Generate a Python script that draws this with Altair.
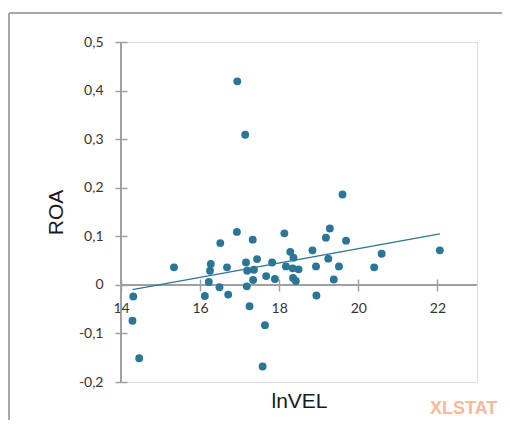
import altair as alt
import pandas as pd

# Data (lnVEL vs ROA)
lnvel = [14.31, 14.29, 14.46, 15.34, 16.27, 16.25, 16.22, 16.12, 16.51, 16.49,
         16.68, 16.71, 16.93, 16.94, 17.14, 17.16, 17.19, 17.18, 17.25, 17.33,
         17.44, 17.36, 17.34, 17.64, 17.58, 17.67, 17.82, 17.89, 18.13, 18.28,
         18.36, 18.17, 18.34, 18.35, 18.42, 18.49, 18.84, 18.93, 18.94, 19.18,
         19.28, 19.24, 19.38, 19.51, 19.60, 19.69, 20.40, 20.59, 22.06]
roa = [-0.024, -0.074, -0.151, 0.036, 0.043, 0.029, 0.006, -0.023, 0.086, -0.005,
       0.036, -0.020, 0.109, 0.419, 0.309, 0.046, 0.029, -0.003, -0.044, 0.093,
       0.053, 0.031, 0.010, -0.083, -0.168, 0.018, 0.046, 0.012, 0.106, 0.068,
       0.056, 0.038, 0.034, 0.014, 0.008, 0.032, 0.071, 0.038, -0.022, 0.097,
       0.116, 0.054, 0.011, 0.038, 0.186, 0.091, 0.036, 0.064, 0.071]

x_ticks = [14, 16, 18, 20, 22]
y_ticks = [-0.2, -0.1, 0, 0.1, 0.2, 0.3, 0.4, 0.5]

df = pd.DataFrame({"lnVEL": lnvel, "ROA": roa})

W, H = 356, 340
BLUE = "#2B7597"
AXIS_GRAY = "#A0A0A0"

xscale = alt.Scale(domain=[14, 23], nice=False, zero=False)
yscale = alt.Scale(domain=[-0.2, 0.5], nice=False, zero=False)

x_enc = alt.X(
    "lnVEL:Q", scale=xscale, title="lnVEL",
    axis=alt.Axis(values=x_ticks, orient="bottom", offset=-103, tickSize=12,
                  domain=False, grid=False, tickColor=AXIS_GRAY, tickWidth=1.5,
                  labelFlush=False, labelOverlap=False,
                  labelFont="Lato", labelFontSize=14, labelColor="#333333",
                  labelPadding=10, labelBaseline="top",
                  titleFont="Liberation Sans", titleFontSize=21,
                  titleFontWeight="normal", titleColor="#1a1a1a",
                  titleX=178, titleY=128, titleBaseline="alphabetic",
                  titleAlign="center"))
y_enc = alt.Y(
    "ROA:Q", scale=yscale, title="ROA",
    axis=alt.Axis(values=y_ticks, orient="left", offset=-6, tickSize=12,
                  domain=False, grid=False, tickColor=AXIS_GRAY, tickWidth=1.5,
                  labelFlush=False, labelOverlap=False,
                  labelExpr="datum.value == 0 ? '0' : replace(toString(round(datum.value*10)/10), '.', ',')",
                  labelFont="Lato", labelFontSize=14, labelColor="#333333",
                  labelPadding=12,
                  titleFont="Liberation Sans", titleFontSize=21,
                  titleFontWeight="normal", titleColor="#1a1a1a",
                  titleAngle=270, titleX=-65, titleY=170,
                  titleBaseline="alphabetic", titleAlign="center"))

base = alt.Chart(df)

points = base.mark_point(filled=True, size=62, opacity=1, color=BLUE).encode(
    x=x_enc, y=y_enc)

reg = base.transform_regression("lnVEL", "ROA").mark_line(
    color=BLUE, strokeWidth=1.3).encode(
    x=alt.X("lnVEL:Q", scale=xscale), y=alt.Y("ROA:Q", scale=yscale))

# axis lines crossing at zero
x_axis_line = alt.Chart(df).mark_rule(color=AXIS_GRAY, strokeWidth=1.5).encode(
    y=alt.datum(0, scale=yscale), x=alt.value(0), x2=alt.value(W))
y_axis_line = alt.Chart(df).mark_rule(color=AXIS_GRAY, strokeWidth=1.5).encode(
    x=alt.value(0), y=alt.value(0), y2=alt.value(H))

# outer frame (partially visible in reference)
frame_left = alt.Chart(df).mark_rule(color="#A8A8A8", strokeWidth=1.5).encode(
    x=alt.value(-112), y=alt.value(-29), y2=alt.value(400))
frame_top = alt.Chart(df).mark_rule(color="#A8A8A8", strokeWidth=1.5).encode(
    x=alt.value(-112), x2=alt.value(400), y=alt.value(-29))

watermark = alt.Chart(pd.DataFrame({"t": ["XLSTAT"]})).mark_text(
    font="Liberation Sans", fontSize=18, fontWeight="bold", color="#F9B89B",
    align="left", baseline="alphabetic").encode(
    text="t:N", x=alt.value(309), y=alt.value(372))

chart = alt.layer(
    frame_left, frame_top, x_axis_line, y_axis_line, reg, points, watermark
).properties(
    width=W, height=H,
    autosize=alt.AutoSizeParams(type="none"),
    padding={"left": 113, "top": 34, "right": 25, "bottom": 38},
).configure_view(
    stroke="#D6D6D6", strokeWidth=1.5
).configure(background="white")

chart.save("out.html", embed_options={"renderer": "svg", "actions": False})
